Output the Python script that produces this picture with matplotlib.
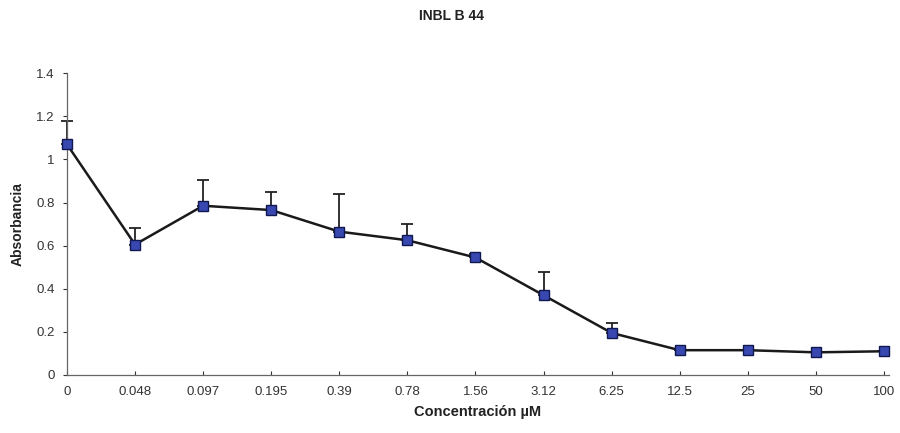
import matplotlib
matplotlib.use("Agg")
import matplotlib.pyplot as plt
import numpy as np

plt.rcParams['font.family'] = ['Liberation Sans', 'DejaVu Sans']

# data
conc_labels = ['0', '0.048', '0.097', '0.195', '0.39', '0.78', '1.56',
               '3.12', '6.25', '12.5', '25', '50', '100']
absorbance = [1.07, 0.605, 0.785, 0.765, 0.665, 0.625, 0.545,
              0.37, 0.195, 0.115, 0.115, 0.105, 0.11]
err_upper = [0.11, 0.075, 0.12, 0.085, 0.175, 0.075, 0.015,
             0.11, 0.045, 0.0, 0.0, 0.0, 0.0]

fig = plt.figure(figsize=(9, 4.33), dpi=100)
ax = fig.add_axes([0.0744, 0.134, 0.913, 0.697])

x = np.arange(len(conc_labels))
yerr = [np.zeros(len(err_upper)), err_upper]
eb = ax.errorbar(x, absorbance, yerr=yerr, fmt='none', ecolor='#222222',
                 elinewidth=1.3, capsize=4, capthick=1.3, zorder=2)
for art in eb.lines[1] + eb.lines[2]:
    art.set_clip_on(False)
ax.plot(x, absorbance, color='#1a1a1a', linewidth=1.8, zorder=3,
        clip_on=False)
ax.plot(x, absorbance, 's', markersize=7, markerfacecolor='#3848b0',
        markeredgecolor='#101850', markeredgewidth=1.0, zorder=4,
        clip_on=False)

ax.set_xlim(0, 12.07)
ax.set_ylim(0, 1.4)
ax.set_xticks(x)
ax.set_xticklabels(conc_labels)
ax.set_yticks([0, 0.2, 0.4, 0.6, 0.8, 1.0, 1.2, 1.4])
ax.set_yticklabels(['0', '0.2', '0.4', '0.6', '0.8', '1', '1.2', '1.4'])
ax.tick_params(axis='both', labelsize=9.5, colors='#333333', length=3,
               width=0.8)
ax.tick_params(axis='x', direction='in', pad=8)
ax.tick_params(axis='y', direction='out', pad=6)

for side in ['top', 'right']:
    ax.spines[side].set_visible(False)
for side in ['left', 'bottom']:
    ax.spines[side].set_color('#666666')
    ax.spines[side].set_linewidth(0.9)

ax.set_xlabel('Concentración µM', fontsize=10.5, fontweight='bold',
              color='#222222', labelpad=5)
ax.set_ylabel('Absorbancia', fontsize=10, fontweight='bold',
              color='#222222', labelpad=8)
fig.text(0.502, 0.962, 'INBL B 44', ha='center', va='center',
         fontsize=10, fontweight='bold', color='#222222')

fig.savefig('out.png', dpi=100)
